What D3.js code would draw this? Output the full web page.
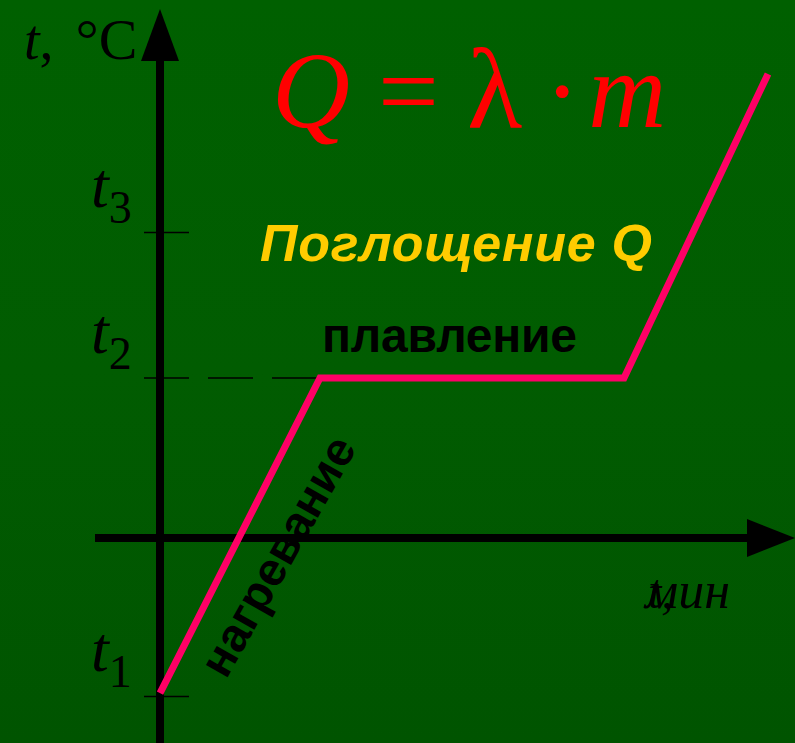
<!DOCTYPE html>
<html lang="ru">
<head>
  <meta charset="UTF-8" />
  <title>Плавление</title>
  <script src="https://d3js.org/d3.v7.min.js"></script>
  <style>
    html, body { margin: 0; padding: 0; background: #005a00; }
    svg { display: block; }
    .serif { font-family: "Liberation Serif", "DejaVu Serif", serif; }
    .sans { font-family: "Liberation Sans", Arial, sans-serif; font-weight: bold; }
  </style>
</head>
<body>
  <svg width="795" height="743"></svg>

  <script>
    const width = 795;
    const height = 743;

    // время (усл. ед.) и температура (усл. ед.) ломаной
    const times = [0, 1, 2.9, 3.8];
    const temps = [-0.97, 1, 1, 2.9];

    // отметки на оси температуры
    const tickNames = ["1", "2", "3"];
    const tickValues = [-0.99, 1, 1.91];

    const x = d3.scaleLinear().domain([0, 4]).range([160, 800]);
    const y = d3.scaleLinear().domain([-1, 3]).range([698, 58]);

    const svg = d3.select("svg");

    const defs = svg.append("defs");
    const grad = defs.append("linearGradient")
      .attr("id", "bg")
      .attr("x1", 0).attr("y1", 0).attr("x2", 0).attr("y2", 1);
    grad.append("stop").attr("offset", "0%").attr("stop-color", "#006000");
    grad.append("stop").attr("offset", "50%").attr("stop-color", "#015c01");
    grad.append("stop").attr("offset", "100%").attr("stop-color", "#005400");

    svg.append("rect")
      .attr("width", width)
      .attr("height", height)
      .attr("fill", "url(#bg)");

    const x0 = x(0);
    const y0 = y(0);

    // ось температуры
    svg.append("line")
      .attr("x1", x0).attr("x2", x0)
      .attr("y1", height).attr("y2", 55)
      .attr("stroke", "#000").attr("stroke-width", 8);
    svg.append("path")
      .attr("d", `M${x0},9 L${x0 - 19},61 L${x0 + 19},61 Z`)
      .attr("fill", "#000");

    // ось времени
    svg.append("line")
      .attr("x1", 95).attr("x2", 750)
      .attr("y1", y0).attr("y2", y0)
      .attr("stroke", "#000").attr("stroke-width", 8);
    svg.append("path")
      .attr("d", `M795,${y0} L747,${y0 - 19} L747,${y0 + 19} Z`)
      .attr("fill", "#000");

    // отметки t1, t2, t3
    svg.selectAll(".tick")
      .data(tickValues)
      .enter()
      .append("line")
      .attr("class", "tick")
      .attr("x1", x0 - 16)
      .attr("x2", x0 + 29)
      .attr("y1", d => y(d))
      .attr("y2", d => y(d))
      .attr("stroke", "#000")
      .attr("stroke-width", 1.5);

    // пунктир до начала плавления
    svg.append("line")
      .attr("x1", x0 + 29)
      .attr("x2", x(times[1]))
      .attr("y1", y(temps[1]))
      .attr("y2", y(temps[1]))
      .attr("stroke", "#000")
      .attr("stroke-width", 1.5)
      .attr("stroke-dasharray", "45 19")
      .attr("stroke-dashoffset", -19);

    const tickLabel = svg.selectAll(".tick-label")
      .data(tickNames)
      .enter()
      .append("text")
      .attr("class", "tick-label serif")
      .attr("x", 91)
      .attr("y", (d, i) => y(tickValues[i]) - 25)
      .attr("fill", "#000");
    tickLabel.append("tspan")
      .attr("font-size", 64)
      .attr("font-style", "italic")
      .text("t");
    tickLabel.append("tspan")
      .attr("font-size", 46)
      .attr("dx", 0)
      .attr("dy", 16)
      .text(d => d);

    // подпись оси температуры
    const yTitle = svg.append("text")
      .attr("class", "serif")
      .attr("x", 24)
      .attr("y", 59)
      .attr("fill", "#000");
    yTitle.append("tspan").attr("font-size", 56).attr("font-style", "italic").text("t");
    yTitle.append("tspan").attr("font-size", 56).text(",");
    yTitle.append("tspan").attr("font-size", 58).attr("dx", 22).text("°C");

    // подпись оси времени (наложенные «t,» и «мин»)
    svg.append("text")
      .attr("class", "serif")
      .attr("x", 648)
      .attr("y", 608)
      .attr("font-size", 48)
      .attr("font-style", "italic")
      .attr("fill", "#000")
      .text("t,");
    svg.append("text")
      .attr("class", "serif")
      .attr("x", 645)
      .attr("y", 608)
      .attr("font-size", 52)
      .attr("font-style", "italic")
      .attr("fill", "#000")
      .text("мин");

    // график
    const line = d3.line()
      .x((d, i) => x(times[i]))
      .y(d => y(d));
    svg.append("path")
      .attr("d", line(temps))
      .attr("fill", "none")
      .attr("stroke", "#ff0066")
      .attr("stroke-width", 7)
      .attr("stroke-linejoin", "miter");

    // формула
    const formula = svg.append("text")
      .attr("class", "serif")
      .attr("x", 272)
      .attr("y", 127)
      .attr("font-size", 108)
      .attr("fill", "#ff0000");
    formula.append("tspan").attr("font-style", "italic").text("Q");
    formula.append("tspan").attr("dx", 28).text("=");
    formula.append("tspan").attr("dx", 28).attr("font-size", 114).text("λ");
    formula.append("tspan").attr("dx", 22).text("·");
    formula.append("tspan").attr("dx", 8).attr("font-style", "italic").text("m");

    svg.append("text")
      .attr("class", "sans")
      .attr("x", 260)
      .attr("y", 261)
      .attr("font-size", 52)
      .attr("font-style", "italic")
      .attr("fill", "#ffcc00")
      .attr("textLength", 392)
      .text("Поглощение Q");

    svg.append("text")
      .attr("class", "sans")
      .attr("x", 322)
      .attr("y", 352)
      .attr("font-size", 48)
      .attr("fill", "#000")
      .attr("textLength", 255)
      .text("плавление");

    svg.append("text")
      .attr("class", "sans")
      .attr("font-size", 47)
      .attr("fill", "#000")
      .attr("transform", "translate(226,680) rotate(-60.5)")
      .text("нагревание");
  </script>
</body>
</html>
